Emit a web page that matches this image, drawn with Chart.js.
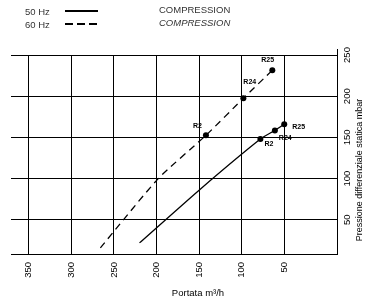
<!DOCTYPE html>
<html>
<head>
<meta charset="utf-8">
<script src="https://cdn.jsdelivr.net/npm/chart.js@4.4.0/dist/chart.umd.min.js"></script>
<style>
  body { margin: 0; background: #fff; }
  #wrap { width: 371px; height: 307px; position: relative; }
</style>
</head>
<body>
<div id="wrap"><canvas id="chart"></canvas></div>
<script>
// data
const xTicks = [350, 300, 250, 200, 150, 100, 50];
const yTicks = [50, 100, 150, 200, 250];

const hz50X = [220, 150, 78, 61, 50];
const hz50Y = [22, 86, 148, 158.5, 166];
const hz50Labels = ['', '', 'R2', 'R24', 'R25'];

const hz60X = [266, 198, 142, 98, 64];
const hz60Y = [16, 100, 152.5, 197.5, 231.5];
const hz60Labels = ['', '', 'R2', 'R24', 'R25'];

const seriesNames = ['50 Hz', '60 Hz'];
const seriesTitle = 'COMPRESSION';
const xTitle = 'Portata m\u00b3/h';
const yTitle = 'Pressione differenziale statica mbar';

// pixel offsets of the little R labels (left edge, vertical centre)
const labelOffsets = {
  0: { R2: [4, 5], R24: [4, 8], R25: [8, 3] },
  1: { R2: [-13, -9], R24: [0, -16], R25: [-11, -10] }
};

function toPoints(xs, ys) {
  return xs.map(function (x, i) { return { x: x, y: ys[i] }; });
}

function radii(labels) {
  return labels.map(function (l) { return l ? 3 : 0; });
}

const FONT = '"Liberation Sans", Arial, sans-serif';

const textPlugin = {
  id: 'textPlugin',
  afterDraw: function (chart) {
    const ctx = chart.ctx;
    const area = chart.chartArea;
    const xs = chart.scales.x;
    const ys = chart.scales.y;
    ctx.save();
    ctx.fillStyle = '#000';
    ctx.strokeStyle = '#000';

    // axis line sticks out a little above the plot
    ctx.lineWidth = 1;
    ctx.beginPath();
    ctx.moveTo(Math.round(area.right) + 0.5, area.top - 6);
    ctx.lineTo(Math.round(area.right) + 0.5, area.top);
    ctx.stroke();

    // x tick labels, rotated
    ctx.font = '9.5px ' + FONT;
    ctx.textAlign = 'right';
    ctx.textBaseline = 'middle';
    xTicks.forEach(function (v) {
      ctx.save();
      ctx.translate(xs.getPixelForValue(v), area.bottom + 8);
      ctx.rotate(-Math.PI / 2);
      ctx.fillText(String(v), 0, 0);
      ctx.restore();
    });

    // y tick labels, rotated
    ctx.textAlign = 'center';
    yTicks.forEach(function (v) {
      ctx.save();
      ctx.translate(area.right + 10, ys.getPixelForValue(v));
      ctx.rotate(-Math.PI / 2);
      ctx.fillText(String(v), 0, 0);
      ctx.restore();
    });

    // axis titles
    ctx.font = '9.5px ' + FONT;
    ctx.fillText(xTitle, 198, 293);
    ctx.save();
    ctx.translate(area.right + 23, 170);
    ctx.rotate(-Math.PI / 2);
    ctx.font = '9px ' + FONT;
    ctx.fillText(yTitle, 0, 0);
    ctx.restore();

    // legend
    ctx.textAlign = 'left';
    ctx.font = '9.5px ' + FONT;
    ctx.fillStyle = '#333';
    ctx.fillText(seriesNames[0], 25, 12);
    ctx.fillText(seriesNames[1], 25, 25);
    ctx.fillText(seriesTitle, 159, 10);
    ctx.font = 'italic 9.5px ' + FONT;
    ctx.fillText(seriesTitle, 159, 23);
    ctx.lineWidth = 2;
    ctx.beginPath();
    ctx.moveTo(65, 11);
    ctx.lineTo(98, 11);
    ctx.stroke();
    ctx.setLineDash([8, 4]);
    ctx.beginPath();
    ctx.moveTo(65, 24);
    ctx.lineTo(98, 24);
    ctx.stroke();
    ctx.setLineDash([]);

    // R labels next to the points
    ctx.fillStyle = '#000';
    ctx.font = 'bold 7px ' + FONT;
    chart.data.datasets.forEach(function (ds, di) {
      const meta = chart.getDatasetMeta(di);
      ds.pointNames.forEach(function (name, i) {
        if (!name) return;
        const el = meta.data[i];
        const off = labelOffsets[di][name];
        ctx.fillText(name, el.x + off[0], el.y + off[1]);
      });
    });
    ctx.restore();
  }
};

new Chart(document.getElementById('chart'), {
  type: 'line',
  data: {
    datasets: [{
      label: seriesNames[0],
      data: toPoints(hz50X, hz50Y),
      pointNames: hz50Labels,
      borderColor: '#000',
      backgroundColor: '#000',
      borderWidth: 1.3,
      pointRadius: radii(hz50Labels),
      pointBorderWidth: 0,
      tension: 0.2
    }, {
      label: seriesNames[1],
      data: toPoints(hz60X, hz60Y),
      pointNames: hz60Labels,
      borderColor: '#000',
      backgroundColor: '#000',
      borderWidth: 1.3,
      borderDash: [7, 5],
      pointRadius: radii(hz60Labels),
      pointBorderWidth: 0,
      tension: 0.2
    }]
  },
  options: {
    responsive: true,
    maintainAspectRatio: false,
    animation: false,
    events: [],
    layout: { padding: { left: 11, top: 55, right: 34, bottom: 53 } },
    plugins: {
      legend: { display: false },
      tooltip: { enabled: false }
    },
    scales: {
      x: {
        type: 'linear',
        reverse: true,
        min: -12,
        max: 371,
        afterBuildTicks: function (scale) {
          scale.ticks = xTicks.map(function (v) { return { value: v }; });
        },
        ticks: { display: false },
        grid: { color: '#000', lineWidth: 1, drawTicks: false },
        border: { color: '#000', width: 1 }
      },
      y: {
        type: 'linear',
        position: 'right',
        min: 8.5,
        max: 250,
        afterBuildTicks: function (scale) {
          scale.ticks = yTicks.map(function (v) { return { value: v }; });
        },
        ticks: { display: false },
        grid: { color: '#000', lineWidth: 1, drawTicks: false },
        border: { color: '#000', width: 1 }
      }
    }
  },
  plugins: [textPlugin]
});
</script>
</body>
</html>
